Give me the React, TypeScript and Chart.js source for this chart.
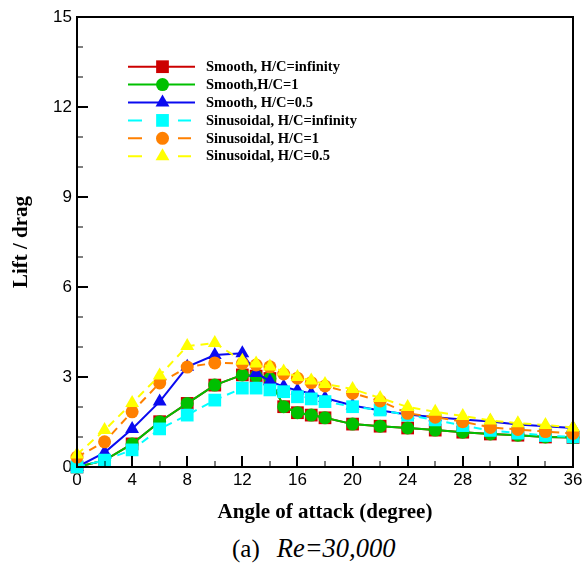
import React, { useEffect, useRef } from "react";
import { Chart, registerables } from "chart.js";

Chart.register(...registerables);

// ---- data ----
const angles = [0, 2, 4, 6, 8, 10, 12, 13, 14, 15, 16, 17, 18, 20, 22, 24, 26, 28, 30, 32, 34, 36];
const smoothInf = [0, 0.22, 0.77, 1.51, 2.12, 2.73, 3.07, 3.03, 2.95, 2.01, 1.81, 1.73, 1.64, 1.43, 1.36, 1.3, 1.23, 1.16, 1.1, 1.06, 1.0, 0.98];
const smoothHC1 = [0, 0.22, 0.77, 1.51, 2.12, 2.73, 3.07, 3.03, 2.95, 2.01, 1.81, 1.73, 1.64, 1.43, 1.36, 1.3, 1.23, 1.16, 1.1, 1.06, 1.0, 0.98];
const smoothHC05 = [0, 0.48, 1.27, 2.18, 3.34, 3.73, 3.79, 3.13, 2.86, 2.68, 2.55, 2.45, 2.3, 2.05, 1.88, 1.75, 1.66, 1.58, 1.52, 1.42, 1.36, 1.3];
const sinInf = [0, 0.23, 0.57, 1.27, 1.73, 2.23, 2.63, 2.63, 2.57, 2.51, 2.34, 2.27, 2.18, 2.01, 1.9, 1.73, 1.57, 1.38, 1.22, 1.13, 1.05, 1.0];
const sinHC1 = [0.33, 0.84, 1.84, 2.8, 3.33, 3.47, 3.45, 3.4, 3.34, 3.1, 2.96, 2.81, 2.7, 2.46, 2.2, 1.79, 1.66, 1.51, 1.32, 1.25, 1.18, 1.12];
const sinHC05 = [0.42, 1.23, 2.13, 3.05, 4.03, 4.13, 3.54, 3.45, 3.35, 3.18, 3.0, 2.88, 2.77, 2.6, 2.3, 2.0, 1.84, 1.7, 1.55, 1.46, 1.4, 1.32];

const seriesLabels = [
  "Smooth, H/C=infinity",
  "Smooth,H/C=1",
  "Smooth, H/C=0.5",
  "Sinusoidal, H/C=infinity",
  "Sinusoidal, H/C=1",
  "Sinusoidal, H/C=0.5",
];
const xTickStep = 4;
const yTickStep = 3;
const xTitle = "Angle of attack (degree)";
const yTitle = "Lift / drag";

// ---- styles ----
const colors = ["#CC0000", "#00C000", "#0A0AF0", "#00FFFF", "#FF8000", "#FFFF00"];
const styles = ["rect", "circle", "triangle", "rect", "circle", "triangle"];
const radii = [9, 6.5, 8, 9, 6.5, 8];
const dashed = [false, false, false, true, true, true];
const seriesValues = [smoothInf, smoothHC1, smoothHC05, sinInf, sinHC1, sinHC05];

function drawMarker(ctx: CanvasRenderingContext2D, style: string, x: number, y: number, r: number) {
  ctx.beginPath();
  if (style === "rect") {
    const s = Math.SQRT1_2 * r;
    ctx.rect(x - s, y - s, 2 * s, 2 * s);
  } else if (style === "circle") {
    ctx.arc(x, y, r, 0, Math.PI * 2);
  } else {
    let a = 0;
    ctx.moveTo(x + Math.sin(a) * r, y - Math.cos(a) * r);
    a += (2 * Math.PI) / 3;
    ctx.lineTo(x + Math.sin(a) * r, y - Math.cos(a) * r);
    a += (2 * Math.PI) / 3;
    ctx.lineTo(x + Math.sin(a) * r, y - Math.cos(a) * r);
    ctx.closePath();
  }
  ctx.fill();
}

const framePlugin = {
  id: "frame",
  afterDatasetsDraw(chart: any) {
    const { ctx, chartArea: a, scales } = chart;
    const xs = scales.x;
    const ys = scales.y;
    ctx.save();
    ctx.strokeStyle = "#000";
    ctx.lineWidth = 2;
    ctx.strokeRect(a.left, a.top, a.right - a.left, a.bottom - a.top);
    for (let v = xs.min; v <= xs.max; v += xTickStep / 2) {
      const px = Math.round(xs.getPixelForValue(v));
      const major = v % xTickStep === 0;
      ctx.lineWidth = major ? 2 : 1;
      ctx.beginPath();
      ctx.moveTo(px, a.bottom);
      ctx.lineTo(px, a.bottom - (major ? 11 : 6));
      ctx.stroke();
    }
    for (let v = ys.min; v <= ys.max; v += 1) {
      const py = Math.round(ys.getPixelForValue(v));
      const major = v % yTickStep === 0;
      ctx.lineWidth = major ? 2 : 1;
      ctx.beginPath();
      ctx.moveTo(a.left, py);
      ctx.lineTo(a.left + (major ? 11 : 6), py);
      ctx.stroke();
    }
    ctx.restore();
  },
  afterDraw(chart: any) {
    const { ctx, chartArea: a } = chart;
    const lx = a.left + 51;
    const ly = a.top + 49.7;
    const rowH = 17.9;
    ctx.save();
    ctx.font = "bold 14.5px 'Liberation Serif'";
    ctx.textBaseline = "middle";
    ctx.textAlign = "left";
    seriesLabels.forEach((label, i) => {
      const y = ly + i * rowH;
      ctx.strokeStyle = colors[i];
      ctx.fillStyle = colors[i];
      ctx.lineWidth = 2;
      ctx.beginPath();
      if (dashed[i]) {
        ctx.moveTo(lx, y);
        ctx.lineTo(lx + 14, y);
        ctx.moveTo(lx + 50, y);
        ctx.lineTo(lx + 63, y);
      } else {
        ctx.moveTo(lx, y);
        ctx.lineTo(lx + 67, y);
      }
      ctx.stroke();
      drawMarker(ctx, styles[i], lx + 34.5, y, radii[i]);
      ctx.fillStyle = "#000";
      ctx.fillText(label, lx + 78, y + 0.5);
    });
    ctx.restore();
  },
};

export default function App() {
  const ref = useRef<HTMLCanvasElement | null>(null);
  useEffect(() => {
    document.body.style.margin = "0";
    if (!ref.current) return;
    const datasets = seriesValues.map((vals, i) => ({
      label: seriesLabels[i],
      data: angles.map((x, k) => ({ x, y: vals[k] })),
      borderColor: colors[i],
      backgroundColor: colors[i],
      borderWidth: 2,
      borderDash: dashed[i] ? [8, 6] : [],
      pointStyle: styles[i] as any,
      pointRadius: radii[i],
      pointBorderWidth: 0,
      pointBackgroundColor: colors[i],
      tension: 0,
      clip: false as any,
      order: 5 - i,
    }));
    const chart = new Chart(ref.current, {
      type: "line",
      data: { datasets },
      options: {
        animation: false,
        responsive: false,
        devicePixelRatio: 1,
        layout: { padding: { top: 17, right: 9, left: 0, bottom: 0 } },
        plugins: { legend: { display: false }, tooltip: { enabled: false } },
        scales: {
          x: {
            type: "linear",
            min: 0,
            max: 36,
            grid: { display: false, drawTicks: false },
            border: { display: false },
            ticks: {
              stepSize: xTickStep,
              color: "#000",
              padding: 3,
              maxRotation: 0,
              autoSkip: false,
              font: { family: "'Liberation Sans'", size: 17 },
            },
            title: {
              display: true,
              text: xTitle,
              color: "#000",
              font: { family: "'Liberation Serif'", size: 21, weight: "bold" },
              padding: { top: 0, bottom: 8 },
            },
            afterFit: (s: any) => {
              s.height = 66;
              s.paddingLeft = 0;
              s.paddingRight = 0;
            },
          },
          y: {
            type: "linear",
            min: 0,
            max: 15,
            grid: { display: false, drawTicks: false },
            border: { display: false },
            ticks: {
              stepSize: yTickStep,
              color: "#000",
              padding: 5,
              font: { family: "'Liberation Sans'", size: 17 },
            },
            title: {
              display: true,
              text: yTitle,
              color: "#000",
              font: { family: "'Liberation Serif'", size: 21, weight: "bold" },
              padding: { top: 9, bottom: 0 },
            },
            afterFit: (s: any) => {
              s.width = 77;
              s.paddingTop = 0;
              s.paddingBottom = 0;
            },
          },
        },
      } as any,
      plugins: [framePlugin],
    });
    return () => chart.destroy();
  }, []);

  return (
    <div style={{ position: "relative", width: 582, height: 565, overflow: "hidden" }}>
      <canvas
        ref={ref}
        width={582}
        height={533}
        style={{ display: "block", position: "absolute", left: 0, top: 0, width: 582, height: 533 }}
      />
      <div
        style={{
          position: "absolute",
          top: 536,
          left: 232,
          fontFamily: "'Liberation Serif'",
          fontSize: 25,
          lineHeight: "25px",
          whiteSpace: "nowrap",
          color: "#000",
        }}
      >
        (a)<span style={{ marginLeft: 17, fontStyle: "italic", fontSize: 26.5 }}>Re=30,000</span>
      </div>
    </div>
  );
}
